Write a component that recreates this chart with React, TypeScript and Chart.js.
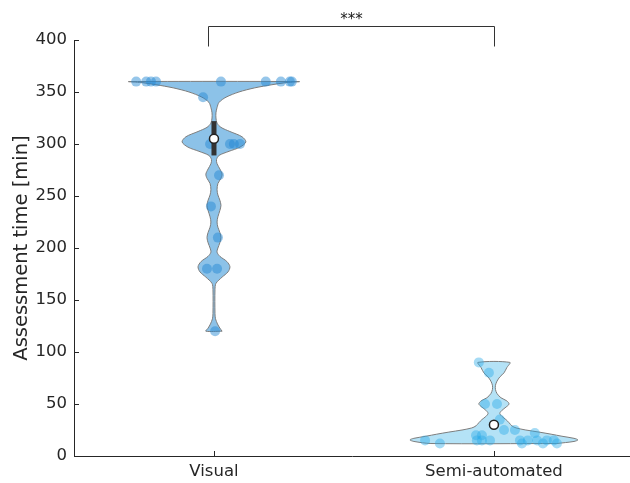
import React, { useEffect, useRef } from 'react';
import { Chart, registerables } from 'chart.js';

Chart.register(...registerables);

// ---------- data ----------
const categories = ['Visual', 'Semi-automated'];
const yMin = 0;
const yMax = 400;
const yStep = 50;

// individual observations (minutes) and their horizontal jitter (x-axis units)
const visualTimes = [360, 360, 360, 360, 360, 360, 360, 360, 360, 345, 300, 300, 300, 300, 270, 240, 210, 180, 180, 120];
const visualJitter = [-0.278, -0.242, -0.225, -0.207, 0.025, 0.185, 0.239, 0.271, 0.278, -0.039, -0.014, 0.057, 0.071, 0.093, 0.018, -0.011, 0.014, -0.025, 0.011, 0.004];

const semiTimes = [90, 80, 50, 50, 35, 25, 25, 22, 20, 20, 15, 15, 15, 15, 15, 15, 15, 15, 15, 12, 12, 12, 12];
const semiJitter = [-0.054, -0.018, -0.032, 0.011, 0.021, 0.036, 0.075, 0.146, -0.064, -0.043, -0.246, -0.061, -0.043, -0.014, 0.093, 0.121, 0.154, 0.189, 0.214, -0.193, 0.1, 0.175, 0.225];

// violin density profile: value -> half width (x-axis units)
const visualProfileY = [120, 123, 127, 132, 137, 160, 166, 172, 177, 182, 187, 192, 196, 200, 205, 210, 215, 220, 225, 230, 236, 241, 246, 251, 256, 262, 267, 271, 276, 281, 285, 289, 293, 297, 302, 307, 312, 316, 320, 325, 330, 335, 340, 345, 350, 354, 357, 359, 360];
const visualProfileW = [0.029, 0.021, 0.0125, 0.0054, 0.0036, 0.0036, 0.0071, 0.029, 0.05, 0.057, 0.046, 0.021, 0.011, 0.014, 0.021, 0.025, 0.021, 0.014, 0.011, 0.014, 0.021, 0.025, 0.021, 0.014, 0.011, 0.014, 0.025, 0.029, 0.021, 0.011, 0.009, 0.018, 0.054, 0.093, 0.114, 0.1, 0.057, 0.025, 0.011, 0.007, 0.007, 0.011, 0.018, 0.043, 0.089, 0.146, 0.207, 0.257, 0.304];

const semiProfileY = [12, 14, 15.5, 17, 19, 21, 23, 25, 27, 29, 32, 35, 38, 41, 44, 47, 50, 53, 56, 60, 64, 68, 72, 76, 80, 85, 90];
const semiProfileW = [0.225, 0.286, 0.3, 0.286, 0.243, 0.204, 0.161, 0.114, 0.079, 0.064, 0.054, 0.043, 0.029, 0.021, 0.029, 0.043, 0.054, 0.046, 0.025, 0.011, 0.0054, 0.0054, 0.011, 0.021, 0.036, 0.046, 0.057];

// summary statistics
const medians = [305, 30];
const visualIQR = [289, 322];

// significance bracket
const bracketX = [0.98, 2];
const bracketY = [394, 413.5];
const starY = 415;
const significance = '***';

// ---------- helpers ----------
function violinOutline(center: number, ys: number[], ws: number[]) {
  const pts: { x: number; y: number }[] = [];
  for (let i = 0; i < ys.length; i++) pts.push({ x: center + ws[i], y: ys[i] });
  for (let i = ys.length - 1; i >= 0; i--) pts.push({ x: center - ws[i], y: ys[i] });
  pts.push({ x: center + ws[0], y: ys[0] });
  return pts;
}

function jittered(center: number, vals: number[], jit: number[]) {
  return vals.map((v, i) => ({ x: center + jit[i], y: v }));
}

const INK = '#262626';
const FONT = "'DejaVu Sans', sans-serif";

const decorPlugin = {
  id: 'decor',
  afterDatasetsDraw(chart: any) {
    const { ctx, scales, chartArea } = chart;
    const x = scales.x;
    const y = scales.y;
    ctx.save();
    // inward category tick marks on the x axis
    ctx.strokeStyle = INK;
    ctx.lineWidth = 1;
    categories.forEach((_, i) => {
      const px = Math.round(x.getPixelForValue(i + 1)) + 0.5;
      ctx.beginPath();
      ctx.moveTo(px, chartArea.bottom);
      ctx.lineTo(px, chartArea.bottom - 5);
      ctx.stroke();
    });
    // significance bracket
    const bx0 = Math.round(x.getPixelForValue(bracketX[0])) + 0.5;
    const bx1 = Math.round(x.getPixelForValue(bracketX[1])) + 0.5;
    const by0 = Math.round(y.getPixelForValue(bracketY[0])) + 0.5;
    const by1 = Math.round(y.getPixelForValue(bracketY[1])) + 0.5;
    ctx.strokeStyle = '#333333';
    ctx.beginPath();
    ctx.moveTo(bx0, by0);
    ctx.lineTo(bx0, by1);
    ctx.lineTo(bx1, by1);
    ctx.lineTo(bx1, by0);
    ctx.stroke();
    // significance stars
    ctx.font = `15px ${FONT}`;
    ctx.fillStyle = '#1a1a1a';
    ctx.textAlign = 'center';
    ctx.textBaseline = 'alphabetic';
    ctx.fillText(significance, (bx0 + bx1) / 2, y.getPixelForValue(starY));
    ctx.restore();
  },
};

export default function App() {
  const ref = useRef<HTMLCanvasElement | null>(null);

  useEffect(() => {
    if (!ref.current) return;
    Chart.defaults.font.family = FONT;
    const chart = new Chart(ref.current, {
      type: 'scatter',
      data: {
        datasets: [
          {
            label: 'median',
            data: medians.map((m, i) => ({ x: i + 1, y: m })),
            pointRadius: 4.5,
            pointBackgroundColor: '#ffffff',
            pointBorderColor: '#222222',
            pointBorderWidth: 1.5,
            order: 1,
          } as any,
          {
            label: 'iqr',
            data: [
              { x: 1, y: visualIQR[0] },
              { x: 1, y: visualIQR[1] },
            ],
            showLine: true,
            borderColor: '#333333',
            borderWidth: 5,
            borderCapStyle: 'butt',
            pointRadius: 0,
            order: 2,
          } as any,
          {
            label: 'visual points',
            data: jittered(1, visualTimes, visualJitter),
            pointRadius: 5,
            pointBackgroundColor: 'rgba(35,135,212,0.48)',
            pointBorderWidth: 0,
            order: 3,
          } as any,
          {
            label: 'semi points',
            data: jittered(2, semiTimes, semiJitter),
            pointRadius: 5,
            pointBackgroundColor: 'rgba(40,170,232,0.42)',
            pointBorderWidth: 0,
            order: 3,
          } as any,
          {
            label: 'visual violin',
            data: violinOutline(1, visualProfileY, visualProfileW),
            showLine: true,
            fill: 'shape',
            backgroundColor: 'rgb(140,194,232)',
            borderColor: 'rgb(125,125,125)',
            borderWidth: 1,
            pointRadius: 0,
            tension: 0.3,
            order: 5,
          } as any,
          {
            label: 'semi violin',
            data: violinOutline(2, semiProfileY, semiProfileW),
            showLine: true,
            fill: 'shape',
            backgroundColor: 'rgb(180,226,246)',
            borderColor: 'rgb(125,125,125)',
            borderWidth: 1,
            pointRadius: 0,
            tension: 0.3,
            order: 5,
          } as any,
        ],
      },
      options: {
        animation: false,
        responsive: false,
        devicePixelRatio: 1,
        layout: { autoPadding: false, padding: { top: 40, left: 0, right: 0, bottom: 0 } },
        plugins: {
          legend: { display: false },
          tooltip: { enabled: false },
        },
        scales: {
          x: {
            type: 'linear',
            min: 0.5,
            max: 2.486,
            afterBuildTicks: (s: any) => {
              s.ticks = categories.map((_, i) => ({ value: i + 1 }));
            },
            afterFit: (s: any) => {
              s.height = 27;
              s.paddingLeft = 0;
              s.paddingRight = 0;
            },
            ticks: {
              callback: (v: any) => categories[Number(v) - 1] ?? '',
              font: { size: 16.5, family: FONT },
              color: INK,
              padding: 6,
              maxRotation: 0,
              autoSkip: false,
            },
            grid: { display: false, drawTicks: false },
            border: { display: true, color: INK, width: 1 },
          },
          y: {
            type: 'linear',
            min: yMin,
            max: yMax,
            afterFit: (s: any) => {
              s.width = 74;
            },
            ticks: {
              stepSize: yStep,
              font: { size: 16.5, family: FONT },
              color: INK,
              padding: 12,
            },
            grid: { drawOnChartArea: false, drawTicks: true, tickLength: -5, color: INK, tickWidth: 1 },
            border: { display: true, color: INK, width: 1 },
            title: {
              display: true,
              text: 'Assessment time [min]',
              font: { size: 19.5, family: FONT },
              color: INK,
              padding: { top: 10, bottom: 0 },
            },
          },
        },
      },
      plugins: [decorPlugin],
    } as any);
    return () => chart.destroy();
  }, []);

  return (
    <div style={{ position: 'absolute', left: 0, top: 0, width: 630, height: 483, background: '#fff' }}>
      <canvas ref={ref} width={630} height={483} style={{ display: 'block' }} />
    </div>
  );
}
